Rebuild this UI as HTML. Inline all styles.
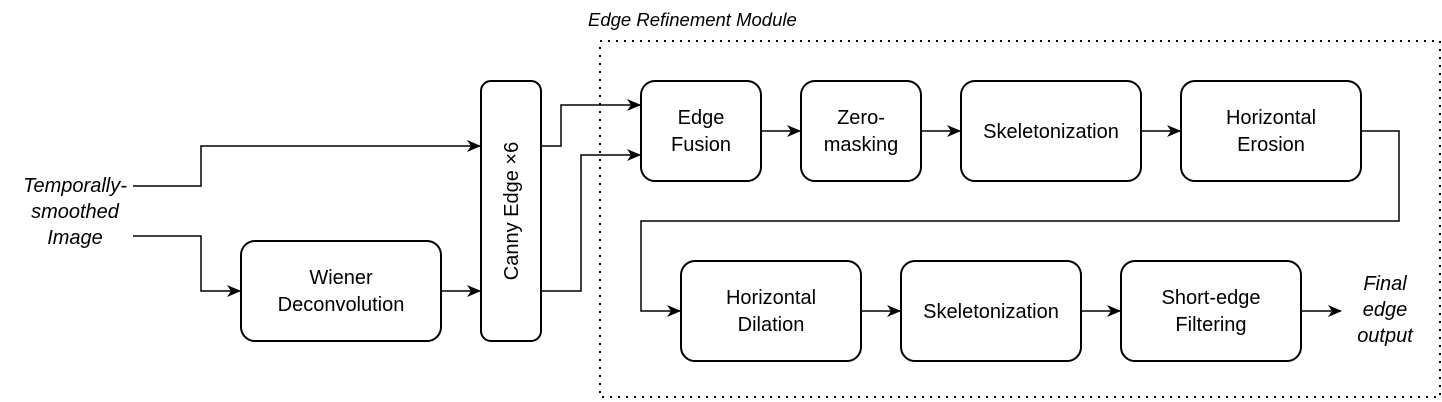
<!DOCTYPE html>
<html><head><meta charset="utf-8"><style>
html,body{margin:0;padding:0;background:#fff;}
svg{display:block;font-family:"Liberation Sans",Arial,sans-serif;}
</style></head><body>
<svg width="1442" height="402" viewBox="0 0 1442 402" xmlns="http://www.w3.org/2000/svg">
<defs><marker id="a" markerWidth="14" markerHeight="12" refX="13" refY="6" orient="auto" markerUnits="userSpaceOnUse"><path d="M0,0 L14,6 L0,12 L4,6 Z" fill="#000"/></marker></defs>
<rect x="600" y="41" width="840" height="356" fill="none" stroke="#000" stroke-width="2" stroke-dasharray="2,6"/>
<text x="588" y="26" font-size="18.5" font-style="italic">Edge Refinement Module</text>
<g fill="none" stroke="#000" stroke-width="2">
<rect x="241" y="241" width="200" height="100" rx="14"/>
<rect x="481" y="81" width="60" height="260" rx="10"/>
<rect x="641" y="81" width="120" height="100" rx="14"/>
<rect x="801" y="81" width="120" height="100" rx="14"/>
<rect x="961" y="81" width="180" height="100" rx="14"/>
<rect x="1181" y="81" width="180" height="100" rx="14"/>
<rect x="681" y="261" width="180" height="100" rx="14"/>
<rect x="901" y="261" width="180" height="100" rx="14"/>
<rect x="1121" y="261" width="180" height="100" rx="14"/>
</g>
<g fill="none" stroke="#000" stroke-width="1.5" marker-end="url(#a)">
<path d="M133,186 H201 V146 H480"/>
<path d="M133,236 H201 V291 H240"/>
<path d="M441,291 H480"/>
<path d="M541,146 H561 V105 H640"/>
<path d="M541,291 H581 V155 H640"/>
<path d="M761,131 H800"/>
<path d="M921,131 H960"/>
<path d="M1141,131 H1180"/>
<path d="M1361,131 H1399 V221 H641 V311 H680"/>
<path d="M861,311 H900"/>
<path d="M1081,311 H1120"/>
<path d="M1301,311 H1341"/>
</g>
<g font-size="20" text-anchor="middle" fill="#000">
<text x="341" y="284">Wiener</text><text x="341" y="311">Deconvolution</text>
<text transform="translate(518,211) rotate(-90)">Canny Edge ×6</text>
<text x="701" y="124">Edge</text><text x="701" y="151">Fusion</text>
<text x="861" y="124">Zero-</text><text x="861" y="151">masking</text>
<text x="1051" y="138">Skeletonization</text>
<text x="1271" y="124">Horizontal</text><text x="1271" y="151">Erosion</text>
<text x="771" y="304">Horizontal</text><text x="771" y="331">Dilation</text>
<text x="991" y="318">Skeletonization</text>
<text x="1211" y="304">Short-edge</text><text x="1211" y="331">Filtering</text>
</g>
<g font-size="20" font-style="italic" text-anchor="middle" fill="#000">
<text x="75" y="192">Temporally-</text><text x="75" y="218">smoothed</text><text x="75" y="244">Image</text>
<text x="1385" y="290">Final</text><text x="1385" y="316">edge</text><text x="1385" y="342">output</text>
</g>
</svg>
</body></html>
